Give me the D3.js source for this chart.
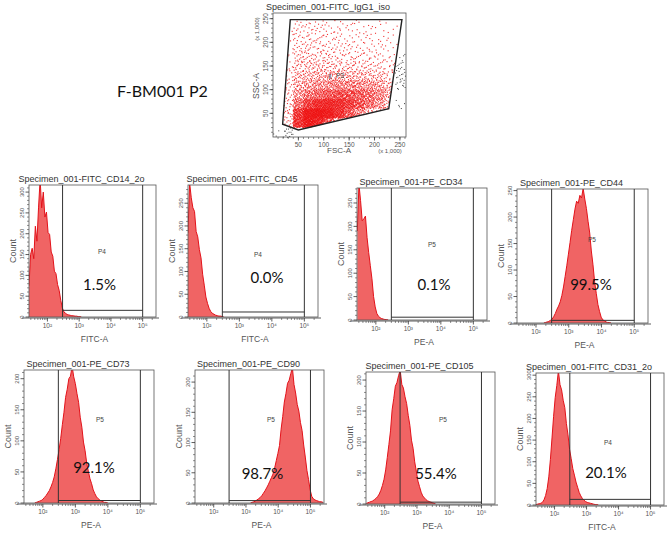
<!DOCTYPE html>
<html><head><meta charset="utf-8">
<script src="https://cdn.jsdelivr.net/npm/d3@7"></script>
<style>
body{margin:0;background:#fff;}
svg{display:block;font-family:"Liberation Sans",Arial,sans-serif;}
</style></head><body>
<svg id="chart" width="670" height="541"></svg>
<script>
// ================= DATA =================
const figureLabel = "F-BM001 P2";

// --- top scatter (FSC-A vs SSC-A, x 1,000)
const scatterTitle = "Specimen_001-FITC_IgG1_iso";
const scatterTicks = [50, 100, 150, 200, 250];
const scatterGateName = "P3";
const scatterGate = [[34, 248], [254, 248], [228, 60], [50, 15], [19, 27]];
// event density of P3 population, 20x20 cells; rows from y=240 down to y=0, cols x=0..240
const densityCols = [0, 20, 40, 60, 80, 100, 120, 140, 160, 180, 200, 220, 240];
const densityRows = [240, 220, 200, 180, 160, 140, 120, 100, 80, 60, 40, 20, 0];
const p3Density = [
  [0, 1, 5, 5, 5, 4, 4, 3, 3, 2, 2, 2, 1],
  [0, 2, 8, 8, 7, 6, 5, 5, 4, 4, 3, 2, 1],
  [0, 3, 9, 9, 8, 7, 6, 5, 5, 5, 4, 3, 1],
  [0, 4, 10, 11, 9, 8, 8, 7, 6, 6, 5, 4, 2],
  [0, 5, 12, 13, 12, 11, 10, 9, 8, 8, 7, 5, 2],
  [0, 6, 15, 17, 17, 16, 15, 14, 13, 12, 10, 7, 3],
  [0, 7, 20, 24, 26, 26, 25, 24, 23, 21, 17, 11, 3],
  [0, 9, 26, 34, 40, 44, 46, 46, 44, 40, 32, 20, 4],
  [0, 10, 36, 56, 70, 82, 88, 86, 76, 64, 46, 26, 4],
  [0, 12, 60, 110, 140, 150, 138, 115, 88, 62, 40, 18, 2],
  [0, 14, 120, 200, 210, 185, 135, 82, 45, 22, 8, 2, 0],
  [0, 12, 130, 200, 160, 85, 30, 8, 2, 0, 0, 0, 0],
  [0, 0, 0, 0, 0, 0, 0, 0, 0, 0, 0, 0, 0]
];
// events outside P3 (cell x, cell y, count)
const outsideX = [240, 240, 240, 240, 240, 20, 0];
const outsideY = [60, 100, 120, 140, 160, 0, 0];
const outsideN = [5, 10, 12, 10, 6, 14, 4];

// --- histograms
const histTitles = ["Specimen_001-FITC_CD14_2o", "Specimen_001-FITC_CD45", "Specimen_001-PE_CD34", "Specimen_001-PE_CD44",
                    "Specimen_001-PE_CD73", "Specimen_001-PE_CD90", "Specimen_001-PE_CD105", "Specimen_001-FITC_CD31_2o"];
const histAxisLabels = ["FITC-A", "FITC-A", "PE-A", "PE-A", "PE-A", "PE-A", "PE-A", "FITC-A"];
const histGateNames = ["P4", "P4", "P5", "P5", "P5", "P5", "P5", "P4"];
const histPercents = ["1.5%", "0.0%", "0.1%", "99.5%", "92.1%", "98.7%", "55.4%", "20.1%"];
const histYMax = [317, 290, 282, 253, 214, 220, 213, 305];
const histGateFloor = [16, 11, 6, 5, 4, 4, 3, 13];
const gateRange = [300, 100000];
const logTicks = [100, 1000, 10000, 100000];
const logTickLabels = ["10\u00B2", "10\u00B3", "10\u2074", "10\u2075"];
const binStep = 0.05; // log10 units
const histBinStart = [1.42, 1.42, 1.43, 2.24, 1.75, 3.14, 1.43, 1.42];
const cd14Counts = [75, 150, 165, 140, 218, 182, 262, 330, 262, 300, 240, 252, 203, 198, 156, 146, 110, 104, 78, 64, 40, 22, 12, 9, 6, 5, 4, 3, 3, 2, 2, 1, 1, 0];
const cd45Counts = [185, 295, 262, 240, 232, 188, 176, 148, 130, 94, 70, 44, 30, 19, 12, 8, 6, 4, 3, 2, 2, 1, 0];
const cd34Counts = [190, 290, 255, 212, 216, 222, 176, 144, 116, 88, 50, 28, 14, 8, 5, 3, 2, 1, 1, 0];
const cd44Counts = [0, 1, 2, 3, 5, 7, 12, 18, 26, 32, 40, 52, 68, 88, 108, 130, 152, 175, 195, 215, 230, 226, 241, 236, 254, 234, 216, 192, 170, 136, 110, 78, 56, 35, 22, 11, 6, 4, 2, 1, 1, 0];
const cd73Counts = [0, 1, 2, 3, 4, 6, 9, 12, 16, 20, 26, 33, 42, 55, 70, 86, 104, 126, 146, 170, 183, 200, 204, 220, 203, 192, 176, 162, 138, 122, 98, 84, 64, 51, 39, 31, 21, 15, 10, 7, 5, 3, 2, 1, 1, 0];
const cd90Counts = [0, 1, 2, 3, 5, 7, 9, 12, 16, 20, 25, 30, 36, 42, 48, 58, 70, 82, 95, 122, 143, 167, 181, 198, 203, 214, 224, 196, 182, 163, 152, 133, 120, 96, 76, 54, 39, 22, 11, 7, 5, 4, 3, 2, 2, 1];
const cd105Counts = [1, 2, 3, 4, 5, 7, 9, 12, 16, 22, 30, 40, 55, 75, 96, 118, 152, 170, 190, 196, 207, 216, 193, 187, 173, 162, 143, 127, 103, 90, 68, 53, 37, 28, 19, 13, 10, 7, 5, 4, 3, 2, 1, 0];
const cd31Counts = [1, 2, 3, 4, 6, 12, 22, 38, 65, 105, 155, 205, 248, 276, 310, 278, 266, 242, 225, 188, 162, 128, 107, 84, 69, 53, 41, 29, 21, 15, 11, 8, 6, 5, 4, 3, 2, 1, 1, 0];

// ================= LAYOUT (pixels) =================
const panelBoxes = [
  [29, 185, 156, 317], [188, 185, 318, 317], [357, 188, 487, 320], [517, 189, 648, 323],
  [24, 370, 154, 503], [195, 370, 324, 503], [366, 372, 495, 504], [536, 373, 664, 505]
];
const pctOffset = [[70.5, 105], [79, 98], [77, 102], [74, 101], [70, 103], [67.5, 109], [70, 107], [70, 105]];
const gateLabelOffset = [[73, 67], [70, 70], [75, 57], [75, 51], [76, 50], [76, 50], [77, 48], [72, 70]];

// ================= DRAW =================
const svg = d3.select("#chart");
const TXT = "#333";
const FRAME = "#555";

svg.append("text").attr("x", 117).attr("y", 97)
  .attr("font-family", "Lato, 'Open Sans', sans-serif").attr("font-size", 16).attr("fill", "#111")
  .text(figureLabel);

// ---- scatter
(function drawScatter() {
  const sx = d3.scaleLinear().domain([0, 262]).range([273, 406]);
  const sy = d3.scaleLinear().domain([0, 262]).range([137, 13]);
  const g = svg.append("g");
  g.append("text").attr("x", 328).attr("y", 10).attr("text-anchor", "middle")
    .attr("font-size", 9).attr("fill", TXT).text(scatterTitle);
  g.append("rect").attr("x", sx(0)).attr("y", sy(262)).attr("width", sx(262) - sx(0)).attr("height", sy(0) - sy(262))
    .attr("fill", "none").attr("stroke", FRAME).attr("stroke-width", 0.8);

  function halton(i, b) { let f = 1, r = 0; while (i > 0) { f /= b; r += f * (i % b); i = Math.floor(i / b); } return r; }
  let idx = 1;
  const red = [], black = [];
  densityRows.forEach((y0, ri) => {
    densityCols.forEach((x0, ci) => {
      const n = p3Density[ri][ci];
      for (let k = 0; k < n; k++) {
        const p = [x0 + 20 * halton(idx, 2), y0 + 20 * halton(idx, 3)];
        idx++;
        if (d3.polygonContains(scatterGate, p)) red.push(p);
      }
    });
  });
  outsideX.forEach((x0, i) => {
    for (let k = 0; k < outsideN[i]; k++) {
      const p = [x0 + 20 * halton(idx, 2), outsideY[i] + 20 * halton(idx, 3)];
      idx++;
      if (!d3.polygonContains(scatterGate, p) && p[0] < 262) black.push(p);
    }
  });
  g.append("g").selectAll("rect").data(black).join("rect")
    .attr("x", d => sx(d[0])).attr("y", d => sy(d[1])).attr("width", 1).attr("height", 1).attr("fill", "#444");
  g.append("g").selectAll("rect").data(red).join("rect")
    .attr("x", d => sx(d[0]) - 0.55).attr("y", d => sy(d[1]) - 0.55).attr("width", 1.1).attr("height", 1.1)
    .attr("fill", "#ee1010").attr("fill-opacity", 0.85);

  g.append("path").datum(scatterGate)
    .attr("d", d => "M" + d.map(p => sx(p[0]) + "," + sy(p[1])).join("L") + "Z")
    .attr("fill", "none").attr("stroke", "#222").attr("stroke-width", 1.4);
  g.append("text").attr("x", sx(109)).attr("y", sy(129) + 3).attr("font-size", 8).attr("fill", "#555").text("\u2016");
  g.append("text").attr("x", sx(124)).attr("y", sy(129) + 2.5).attr("font-size", 6.5).attr("fill", "#444").text(scatterGateName);

  const minor = d3.range(10, 262, 10);
  // x axis
  const xa = g.append("g").attr("transform", `translate(0,${sy(0)})`);
  xa.selectAll("line.mi").data(minor).join("line").attr("x1", d => sx(d)).attr("x2", d => sx(d)).attr("y1", 0).attr("y2", 2).attr("stroke", "#444").attr("stroke-width", 0.6);
  xa.selectAll("line.ma").data(scatterTicks).join("line").attr("x1", d => sx(d)).attr("x2", d => sx(d)).attr("y1", 0).attr("y2", 3.5).attr("stroke", "#333").attr("stroke-width", 0.8);
  xa.selectAll("text").data(scatterTicks).join("text").attr("x", d => sx(d)).attr("y", 9.5).attr("text-anchor", "middle").attr("font-size", 6.5).attr("fill", "#555").text(d => d);
  g.append("text").attr("x", 339).attr("y", 153).attr("text-anchor", "middle").attr("font-size", 8).attr("fill", "#555").text("FSC-A");
  g.append("text").attr("x", 390).attr("y", 153).attr("text-anchor", "middle").attr("font-size", 6).attr("fill", "#555").text("(x 1,000)");
  // y axis
  const ya = g.append("g").attr("transform", `translate(${sx(0)},0)`);
  ya.selectAll("line.mi").data(minor).join("line").attr("y1", d => sy(d)).attr("y2", d => sy(d)).attr("x1", 0).attr("x2", -2).attr("stroke", "#444").attr("stroke-width", 0.6);
  ya.selectAll("line.ma").data(scatterTicks).join("line").attr("y1", d => sy(d)).attr("y2", d => sy(d)).attr("x1", 0).attr("x2", -3.5).attr("stroke", "#333").attr("stroke-width", 0.8);
  ya.selectAll("text").data(scatterTicks).join("text")
    .attr("transform", d => `translate(-5,${sy(d)}) rotate(-90)`).attr("text-anchor", "middle").attr("font-size", 6.5).attr("fill", "#555").text(d => d);
  g.append("text").attr("transform", "translate(259,86) rotate(-90)").attr("text-anchor", "middle").attr("font-size", 8.5).attr("fill", "#555").text("SSC-A");
  g.append("text").attr("transform", "translate(259,29) rotate(-90)").attr("text-anchor", "middle").attr("font-size", 6).attr("fill", "#555").text("(x 1,000)");
})();

// ---- histograms
const histograms = [cd14Counts, cd45Counts, cd34Counts, cd44Counts, cd73Counts, cd90Counts, cd105Counts, cd31Counts];
const defs = svg.append("defs");

histograms.forEach((counts, i) => {
  const [x0, y0, x1, y1] = panelBoxes[i];
  const x = d3.scaleLog().domain([Math.pow(10, 1.42), Math.pow(10, 5.42)]).range([x0, x1]);
  const y = d3.scaleLinear().domain([0, histYMax[i]]).range([y1, y0]);
  const g = svg.append("g");

  defs.append("clipPath").attr("id", "clip" + i).append("rect")
    .attr("x", x0).attr("y", y0).attr("width", x1 - x0).attr("height", y1 - y0);

  g.append("text").attr("x", (x0 + x1) / 2 - 11).attr("y", y0 - 3).attr("text-anchor", "middle")
    .attr("font-size", 9).attr("fill", TXT).text(histTitles[i]);

  const pts = counts.map((c, k) => [Math.pow(10, histBinStart[i] + k * binStep), c]);
  const cg = g.append("g").attr("clip-path", `url(#clip${i})`);
  cg.append("path").datum(pts)
    .attr("d", d3.area().x(d => x(d[0])).y0(y(0)).y1(d => y(d[1])))
    .attr("fill", "#f06464");
  cg.append("path").datum(pts)
    .attr("d", d3.line().x(d => x(d[0])).y(d => y(d[1])))
    .attr("fill", "none").attr("stroke", "#e3121a").attr("stroke-width", 1);

  // frame
  g.append("rect").attr("x", x0).attr("y", y0).attr("width", x1 - x0).attr("height", y1 - y0)
    .attr("fill", "none").attr("stroke", FRAME).attr("stroke-width", 0.8);

  // gate
  const gx0 = x(gateRange[0]), gx1 = x(gateRange[1]), gy = y(histGateFloor[i]);
  g.append("path").attr("d", `M${gx0},${y1}V${y0}M${gx1},${y1}V${y0}M${gx0},${gy}H${gx1}`)
    .attr("fill", "none").attr("stroke", "#333").attr("stroke-width", 1);

  g.append("text").attr("x", x0 + gateLabelOffset[i][0]).attr("y", y0 + gateLabelOffset[i][1] + 2)
    .attr("text-anchor", "middle").attr("font-size", 6.5).attr("fill", "#444").text(histGateNames[i]);
  g.append("text").attr("x", x0 + pctOffset[i][0]).attr("y", y0 + pctOffset[i][1])
    .attr("text-anchor", "middle").attr("font-family", "Lato, 'Open Sans', sans-serif")
    .attr("font-size", 15).attr("fill", "#111").text(histPercents[i]);

  // x axis
  const xa = g.append("g").attr("transform", `translate(0,${y1 + 1})`);
  xa.append("line").attr("x1", x0 - 7).attr("x2", x1 + 3).attr("stroke", "#333").attr("stroke-width", 0.8);
  const minor = [];
  for (let e = 1; e <= 5; e++) for (let m = 2; m <= 9; m++) { const v = m * Math.pow(10, e); if (v > x.domain()[0] && v < x.domain()[1]) minor.push(v); }
  xa.selectAll("line.mi").data(minor).join("line").attr("class", "mi")
    .attr("x1", d => x(d)).attr("x2", d => x(d)).attr("y1", 0).attr("y2", 2).attr("stroke", "#444").attr("stroke-width", 0.6);
  xa.selectAll("line.ma").data(logTicks).join("line").attr("class", "ma")
    .attr("x1", d => x(d)).attr("x2", d => x(d)).attr("y1", 0).attr("y2", 3.5).attr("stroke", "#333").attr("stroke-width", 0.8);
  xa.selectAll("text").data(logTicks).join("text")
    .attr("x", d => x(d)).attr("y", 10).attr("text-anchor", "middle").attr("font-size", 6.5).attr("fill", "#555")
    .text((d, k) => logTickLabels[k]);
  g.append("text").attr("x", (x0 + x1) / 2 + 2).attr("y", y1 + 25).attr("text-anchor", "middle")
    .attr("font-size", 8.5).attr("fill", "#555").text(histAxisLabels[i]);

  // y axis
  const majors = d3.range(0, histYMax[i] + 1, 50);
  const minorsY = d3.range(10, histYMax[i], 10).filter(v => v % 50 !== 0);
  const ya = g.append("g").attr("transform", `translate(${x0},0)`);
  ya.selectAll("line.mi").data(minorsY).join("line").attr("class", "mi")
    .attr("y1", d => y(d)).attr("y2", d => y(d)).attr("x1", 0).attr("x2", -2).attr("stroke", "#444").attr("stroke-width", 0.6);
  ya.selectAll("line.ma").data(majors).join("line").attr("class", "ma")
    .attr("y1", d => y(d)).attr("y2", d => y(d)).attr("x1", 0).attr("x2", -3.5).attr("stroke", "#333").attr("stroke-width", 0.8);
  ya.selectAll("text").data(majors).join("text")
    .attr("transform", d => `translate(-5,${y(d)}) rotate(-90)`).attr("text-anchor", "middle")
    .attr("font-size", 6).attr("fill", "#555").text(d => d);
  g.append("text").attr("transform", `translate(${x0 - 13},${(y0 + y1) / 2}) rotate(-90)`).attr("text-anchor", "middle")
    .attr("font-size", 9).attr("fill", "#555").text("Count");
});
</script>
</body></html>
